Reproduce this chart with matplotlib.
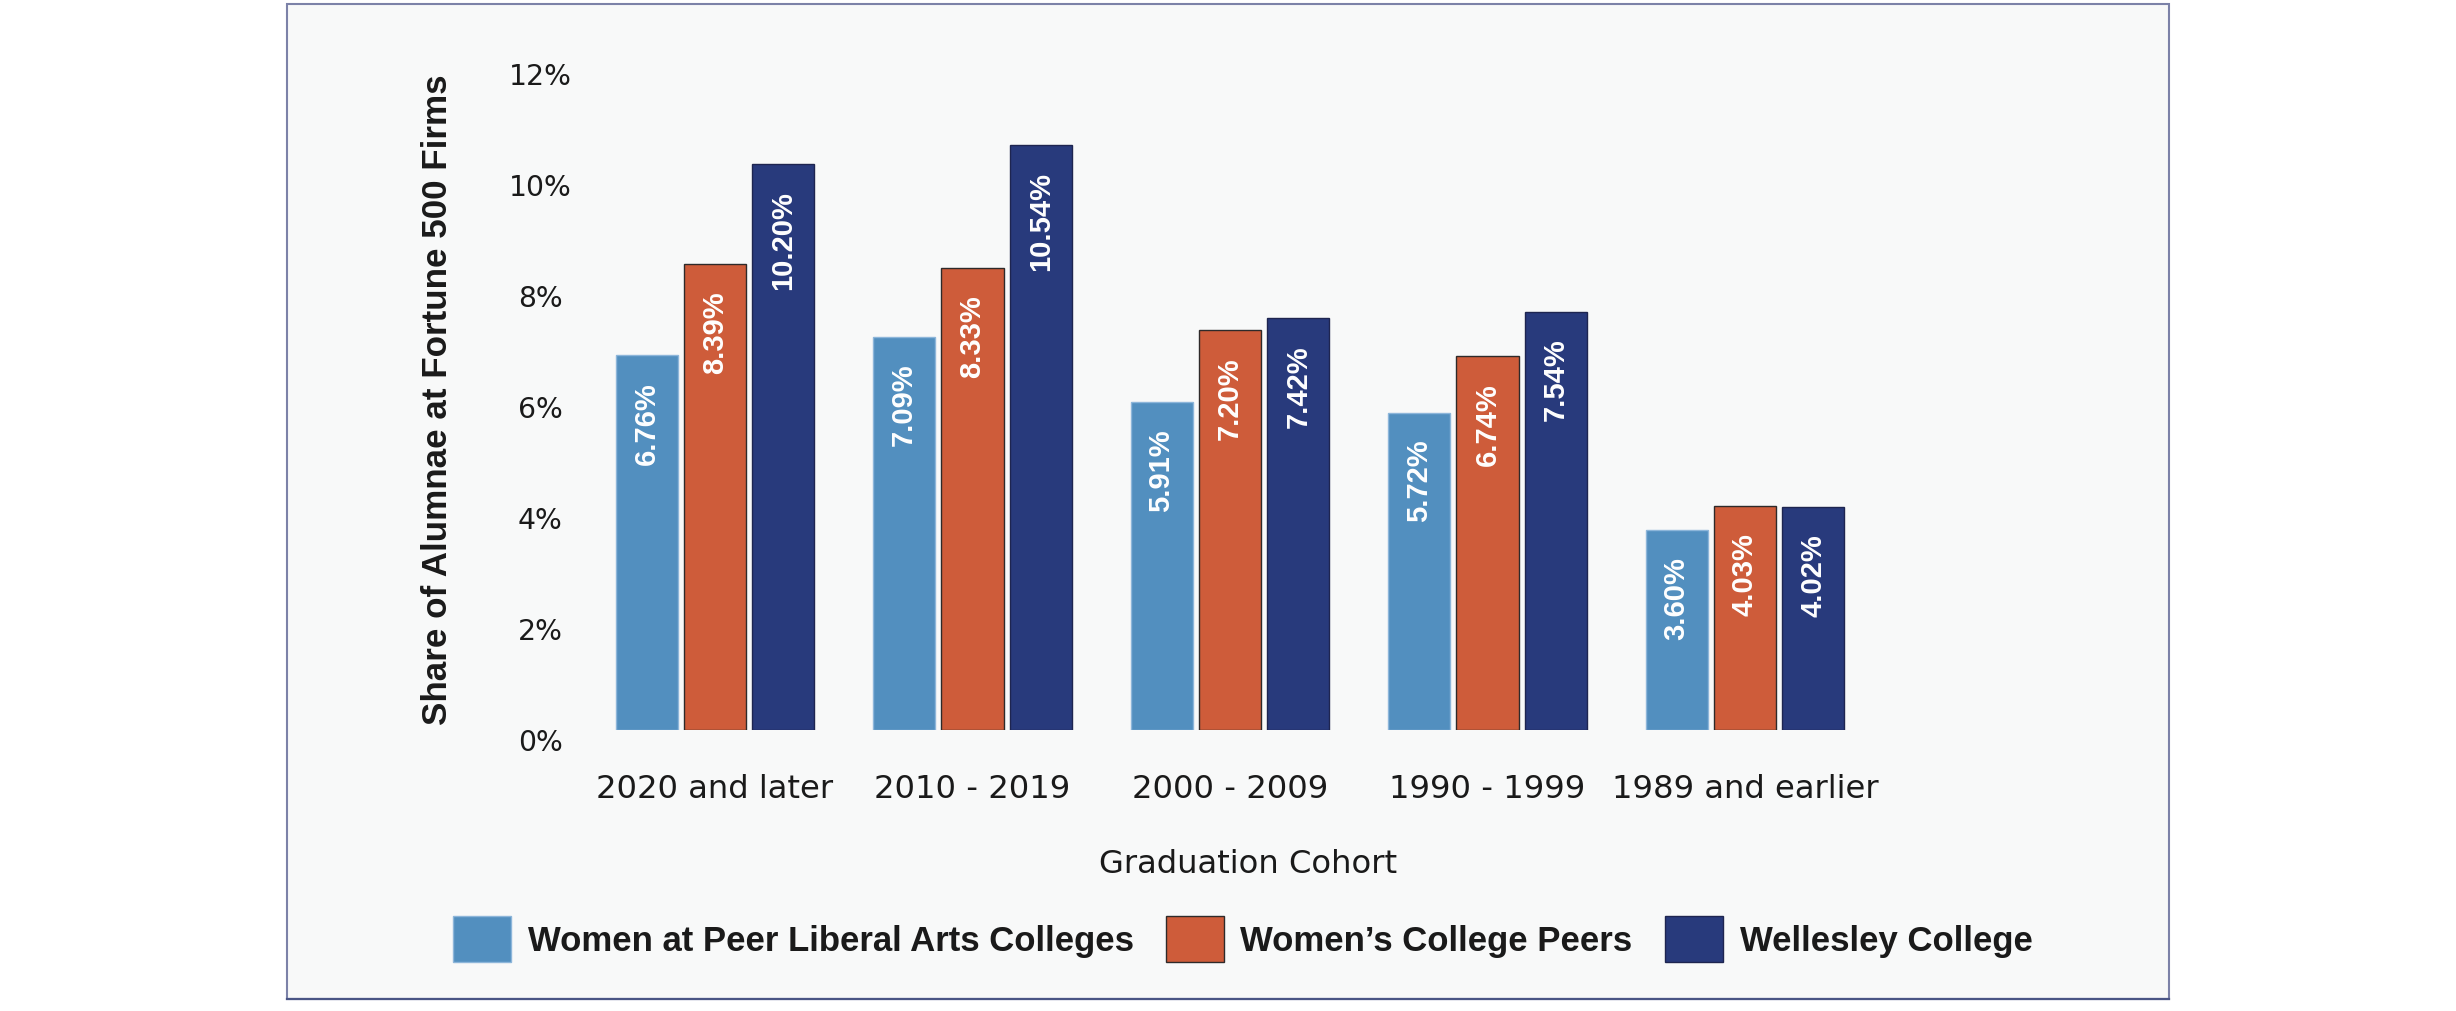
import matplotlib
matplotlib.use("Agg")
import matplotlib.pyplot as plt
import numpy as np
from matplotlib.patches import Rectangle
from matplotlib.transforms import ScaledTranslation

# ---------------- data ----------------
cohorts = ["2020 and later", "2010 - 2019", "2000 - 2009", "1990 - 1999", "1989 and earlier"]
series_names = ["Women at Peer Liberal Arts Colleges", "Women\u2019s College Peers", "Wellesley College"]
peer_lac = [6.76, 7.09, 5.91, 5.72, 3.60]
womens_peers = [8.39, 8.33, 7.20, 6.74, 4.03]
wellesley = [10.20, 10.54, 7.42, 7.54, 4.02]
y_ticks = [0, 2, 4, 6, 8, 10, 12]
y_tick_labels = ["0%", "2%", "4%", "6%", "8%", "10%", "12%"]

# ---------------- style ----------------
colors = ["#528FBF", "#CE5C3A", "#283A7C"]
edges = ["#8DB6DA", "#2E2A2A", "#1E2550"]
W, H, DPI = 2456, 1012, 200
BOLD = "Liberation Sans"
REG = "DejaVu Sans"

fig = plt.figure(figsize=(W / DPI, H / DPI), dpi=DPI, facecolor="white")

# background panel with frame
fig.patches.append(Rectangle((287 / W, 1 - 1000 / H), (2169 - 287) / W, (1000 - 5) / H,
                             transform=fig.transFigure, facecolor="#F8F9F9",
                             edgecolor="#7C82A8", linewidth=0.75, zorder=-2))
fig.lines.append(plt.Line2D([287 / W, 2169 / W], [1 - 1000 / H, 1 - 1000 / H],
                            transform=fig.transFigure, color="#4A5585", linewidth=0.8, zorder=-1))

ax_left, ax_right = 586.25, 1873.75
ax_bottom, ax_top = 731, 65
ax = fig.add_axes([ax_left / W, 1 - ax_bottom / H, (ax_right - ax_left) / W, (ax_bottom - ax_top) / H])
ax.set_facecolor("none")
ax.set_zorder(1)

x = np.arange(len(cohorts))
step = 0.266
bw = 0.2408
all_series = [peer_lac, womens_peers, wellesley]
for i, (vals, name) in enumerate(zip(all_series, series_names)):
    bars = ax.bar(x + (i - 1) * step, vals, width=bw, color=colors[i], edgecolor=edges[i],
                  linewidth=0.5, label=name, zorder=2)
    for b, v in zip(bars, vals):
        ax.annotate(f"{v:.2f}%", xy=(b.get_x() + b.get_width() / 2, v), xytext=(0, -9.4),
                    textcoords="offset points", ha="center", va="top", rotation=90,
                    color="white", fontsize=10.5, fontweight="bold", family=BOLD, zorder=3)

ax.set_xlim(-0.5, len(cohorts) - 0.5)
ax.set_ylim(0, 12)
for s in ax.spines.values():
    s.set_visible(False)

ax.set_yticks(y_ticks)
ax.set_yticklabels(y_tick_labels, family=REG, fontsize=10.2, color="#1a1a1a", ha="center")
ax.tick_params(axis="y", length=0, pad=16.6)
ax.set_xticks(x)
ax.set_xticklabels(cohorts, family=REG, fontsize=11.6, color="#1a1a1a")
ax.tick_params(axis="x", length=0, pad=15.5)

ax.set_xlabel("Graduation Cohort", family=REG, fontsize=11.6, color="#1a1a1a", va="baseline")
ax.xaxis.set_label_coords((1248 - ax_left) / (ax_right - ax_left), -(873.5 - ax_bottom) / (ax_bottom - ax_top))
ax.set_ylabel("Share of Alumnae at Fortune 500 Firms", family=BOLD, fontweight="bold",
              fontsize=12.6, color="#1a1a1a", va="baseline")
ax.yaxis.set_label_coords((447 - ax_left) / (ax_right - ax_left), (ax_bottom - 400) / (ax_bottom - ax_top))

fs_leg = 12.5
em = fs_leg * DPI / 72
leg = fig.legend(loc="center", bbox_to_anchor=(1242.5 / W, 1 - 940 / H), ncol=3, frameon=False,
                 prop={"family": BOLD, "weight": "bold", "size": fs_leg},
                 handlelength=58 / em, handleheight=57 / em, handletextpad=17 / em,
                 columnspacing=32 / em, borderpad=0, borderaxespad=0)
for t in leg.get_texts():
    t.set_color("#1a1a1a")

fig.canvas.draw()
off = ScaledTranslation(0, -9 / DPI, fig.dpi_scale_trans)
for lab in ax.get_yticklabels():
    lab.set_transform(lab.get_transform() + off)

fig.savefig("out.png", dpi=DPI, facecolor="white")
